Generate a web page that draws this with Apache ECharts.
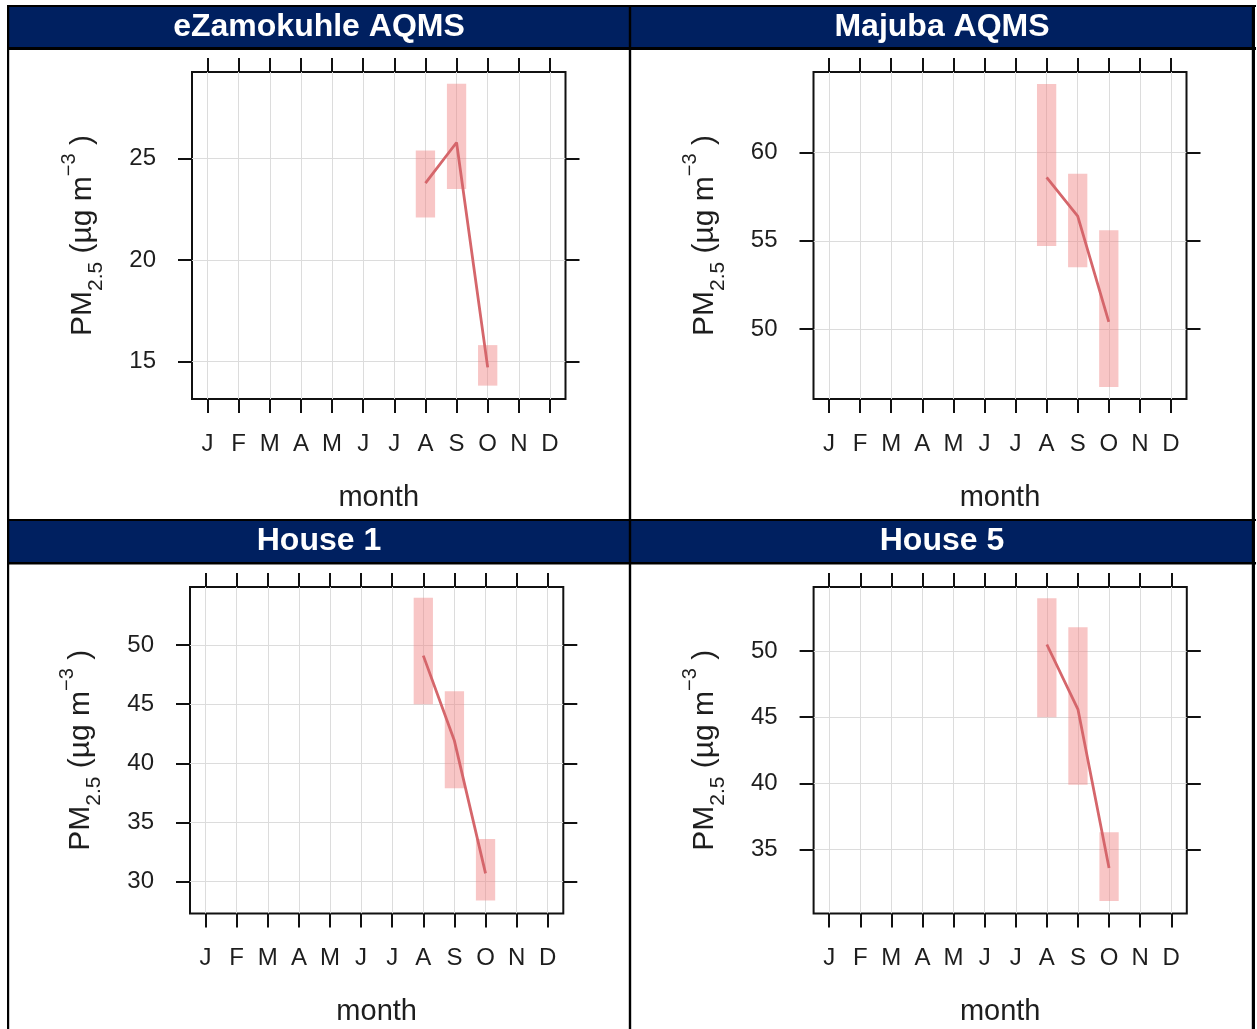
<!DOCTYPE html>
<html><head><meta charset="utf-8">
<script src="https://cdn.jsdelivr.net/npm/echarts@6/dist/echarts.min.js"></script>
<style>html,body{margin:0;padding:0;background:#fff}#c{width:1257px;height:1029px}</style>
</head><body><div id="c"></div>
<script>
const months = ['J','F','M','A','M','J','J','A','S','O','N','D'];
const monthTicks = [1,2,3,4,5,6,7,8,9,10,11,12];
const dataMonths = [8, 9, 10];
const panelTitles = ['eZamokuhle AQMS', 'Majuba AQMS', 'House 1', 'House 5'];

const ezMean = [23.8, 25.8, 14.7];
const ezLow  = [22.1, 23.5, 13.8];
const ezHigh = [25.4, 28.7, 15.8];
const ezTicks = [15, 20, 25];
const ezRange = [13.14, 29.28];

const mjMean = [58.6, 56.4, 50.4];
const mjLow  = [54.7, 53.5, 46.7];
const mjHigh = [63.9, 58.8, 55.6];
const mjTicks = [50, 55, 60];
const mjRange = [46.02, 64.58];

const h1Mean = [49.1, 41.9, 30.7];
const h1Low  = [45.0, 37.9, 28.4];
const h1High = [54.0, 46.1, 33.6];
const h1Ticks = [30, 35, 40, 45, 50];
const h1Range = [27.3, 54.9];

const h5Mean = [50.5, 45.6, 33.6];
const h5Low  = [45.0, 39.9, 31.1];
const h5High = [54.0, 51.8, 36.3];
const h5Ticks = [35, 40, 45, 50];
const h5Range = [30.15, 54.85];

const panels = [
  {mean: ezMean, low: ezLow, high: ezHigh, ticks: ezTicks, range: ezRange},
  {mean: mjMean, low: mjLow, high: mjHigh, ticks: mjTicks, range: mjRange},
  {mean: h1Mean, low: h1Low, high: h1High, ticks: h1Ticks, range: h1Range},
  {mean: h5Mean, low: h5Low, high: h5High, ticks: h5Ticks, range: h5Range}
];

const FONT = '"Liberation Sans", Arial, sans-serif';
const TXT = '#1e1e1e';
const gridRects = [
  {left: 192, top: 72, width: 373.5, height: 327},
  {left: 813.5, top: 72, width: 373, height: 327},
  {left: 190, top: 587, width: 373.3, height: 326.6},
  {left: 813.6, top: 587, width: 373.2, height: 326.6}
];
const boxHalf = 0.31;
const boxColor = 'rgba(240,128,128,0.45)';
const lineColor = '#d5666b';

const grid = [], xAxis = [], yAxis = [], series = [];
panels.forEach((p, i) => {
  grid.push(Object.assign({show: true, borderColor: '#111', borderWidth: 2, backgroundColor: 'transparent', containLabel: false}, gridRects[i]));
  const tickStyle = {show: true, length: 14, lineStyle: {color: '#111', width: 2}};
  xAxis.push({
    gridIndex: i, type: 'value', position: 'bottom', min: 0.5, max: 12.5,
    axisLine: {show: false, onZero: false},
    axisTick: Object.assign({customValues: monthTicks}, tickStyle),
    axisLabel: {customValues: monthTicks, formatter: v => months[Math.round(v) - 1], fontSize: 24, margin: 33, color: TXT, fontFamily: FONT},
    splitLine: {show: true, lineStyle: {color: '#dcdcdc', width: 1}},
    name: 'month', nameLocation: 'middle', nameGap: 84,
    nameTextStyle: {fontSize: 29, color: TXT, fontFamily: FONT}
  });
  xAxis.push({
    gridIndex: i, type: 'value', position: 'top', min: 0.5, max: 12.5,
    axisLine: {show: false, onZero: false},
    axisTick: Object.assign({customValues: monthTicks}, tickStyle),
    axisLabel: {show: false},
    splitLine: {show: false}
  });
  yAxis.push({
    gridIndex: i, type: 'value', position: 'left', min: p.range[0], max: p.range[1],
    axisLine: {show: false, onZero: false},
    axisTick: Object.assign({customValues: p.ticks}, tickStyle),
    axisLabel: {customValues: p.ticks, fontSize: 24, margin: 36, color: TXT, fontFamily: FONT},
    splitLine: {show: true, lineStyle: {color: '#dcdcdc', width: 1}},
    name: '{a|PM}{b|2.5}{a| (µg m}{c|−3}{a| )}',
    nameLocation: 'middle', nameRotate: 90, nameGap: 85,
    nameTextStyle: {
      fontSize: 30, color: TXT, fontFamily: FONT,
      rich: {
        a: {fontSize: 30, lineHeight: 48, verticalAlign: 'middle', color: TXT, fontFamily: FONT},
        b: {fontSize: 21, lineHeight: 33, verticalAlign: 'bottom', color: TXT, fontFamily: FONT},
        c: {fontSize: 20, lineHeight: 9, verticalAlign: 'top', color: TXT, fontFamily: FONT}
      }
    }
  });
  yAxis.push({
    gridIndex: i, type: 'value', position: 'right', min: p.range[0], max: p.range[1],
    axisLine: {show: false, onZero: false},
    axisTick: Object.assign({customValues: p.ticks}, tickStyle),
    axisLabel: {show: false},
    splitLine: {show: false}
  });
  series.push({
    type: 'custom', xAxisIndex: 2 * i, yAxisIndex: 2 * i, z: 2, silent: true,
    encode: {x: 0, y: [1, 2]},
    data: dataMonths.map((m, k) => [m, p.low[k], p.high[k]]),
    renderItem: function (params, api) {
      const x = api.value(0);
      const p1 = api.coord([x - boxHalf, api.value(2)]);
      const p2 = api.coord([x + boxHalf, api.value(1)]);
      return {type: 'rect', shape: {x: p1[0], y: p1[1], width: p2[0] - p1[0], height: p2[1] - p1[1]}, style: {fill: boxColor}};
    }
  });
  series.push({
    type: 'line', xAxisIndex: 2 * i, yAxisIndex: 2 * i, z: 3, silent: true,
    symbol: 'none', smooth: false,
    lineStyle: {color: lineColor, width: 2.8},
    data: dataMonths.map((m, k) => [m, p.mean[k]])
  });
});

const NAVY = '#002060';
function r(x, y, w, h, fill) { return {type: 'rect', shape: {x: x, y: y, width: w, height: h}, style: {fill: fill}, silent: true}; }
function t(x, y, s) {
  return {type: 'text', x: x, y: y, silent: true, style: {text: s, fill: '#fff', font: 'bold 32px ' + FONT, fontSize: 32, fontWeight: 'bold', fontFamily: FONT, textAlign: 'center', textVerticalAlign: 'middle', align: 'center', verticalAlign: 'middle'}};
}
const graphic = [
  r(9, 7, 1243, 40, NAVY),
  r(9, 521, 1243, 41, NAVY),
  r(7, 5, 1249, 2, '#000'),
  r(7, 47, 1249, 3, '#000'),
  r(7, 519, 1249, 2, '#000'),
  r(7, 562, 1249, 2.5, '#000'),
  r(7, 5, 2.2, 1024, '#000'),
  r(628.8, 5, 2.4, 1024, '#000'),
  r(1251.8, 5, 3.2, 1024, '#000'),
  t(319, 27.5, panelTitles[0]),
  t(942, 27.5, panelTitles[1]),
  t(319, 541.5, panelTitles[2]),
  t(942, 541.5, panelTitles[3])
];

const chart = echarts.init(document.getElementById('c'));
chart.setOption({animation: false, backgroundColor: '#fff', grid, xAxis, yAxis, series, graphic});
</script></body></html>
